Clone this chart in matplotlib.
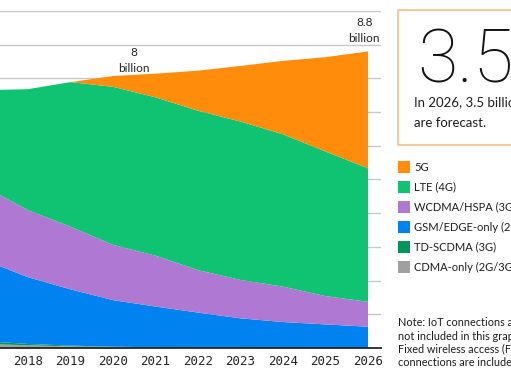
import matplotlib.pyplot as plt
from matplotlib.patches import Rectangle

# Mobile subscriptions by technology (billions)
years = [2017, 2018, 2019, 2020, 2021, 2022, 2023, 2024, 2025, 2026]
cdma = [0.12, 0.08, 0.05, 0.03, 0.02, 0.01, 0.01, 0.0, 0.0, 0.0]
td_scdma = [0.08, 0.04, 0.02, 0.01, 0.0, 0.0, 0.0, 0.0, 0.0, 0.0]
gsm = [2.40, 1.98, 1.67, 1.38, 1.21, 1.04, 0.87, 0.77, 0.70, 0.63]
wcdma = [2.17, 1.99, 1.86, 1.64, 1.51, 1.26, 1.14, 1.05, 0.84, 0.74]
lte = [2.88, 3.59, 4.29, 4.69, 4.70, 4.73, 4.70, 4.52, 4.29, 3.96]
fiveg = [0.0, 0.0, 0.0, 0.32, 0.70, 1.19, 1.65, 2.18, 2.80, 3.47]

labels = ["5G", "LTE (4G)", "WCDMA/HSPA (3G)", "GSM/EDGE-only (2G)",
          "TD-SCDMA (3G)", "CDMA-only (2G/3G)"]
colors = ["#FF8C0A", "#0FC373", "#AF78D2", "#0082F0", "#00965A", "#A0A0A0"]
tick_years = [2018, 2019, 2020, 2021, 2022, 2023, 2024, 2025, 2026]

side_font = "Lato"
dark = "#1e1e1e"

fig = plt.figure(figsize=(5.11, 3.78), dpi=100)
ax = fig.add_axes([0.0, 0.0794, 0.7456, 0.8915])

# stack bottom to top
ax.stackplot(years, cdma, td_scdma, gsm, wcdma, lte, fiveg,
             colors=colors[::-1], linewidth=0)

ax.set_xlim(2017.343, 2026.305)
ax.set_ylim(0, 10)
ax.set_yticks(range(1, 11))
ax.yaxis.grid(True, color="#C8C8C8", linewidth=1)
ax.set_axisbelow(True)
ax.tick_params(axis='y', left=False, labelleft=False)
ax.set_xticks(tick_years)
ax.set_xticklabels([str(y) for y in tick_years], family="DejaVu Sans Mono",
                   fontsize=9, color="#242424")
ax.tick_params(axis='x', length=0, pad=5)
for s in ["top", "right", "left"]:
    ax.spines[s].set_visible(False)
ax.spines["bottom"].set_color("#242424")
ax.spines["bottom"].set_linewidth(1.3)

# total annotations
ax.text(2020.5, 8.53, "8\nbillion", ha="center", va="center", fontsize=8.5,
        family=side_font, linespacing=1.6, color="#242424")
ax.text(2025.91, 9.43, "8.8\nbillion", ha="center", va="center", fontsize=8.5,
        family=side_font, linespacing=1.6, color="#242424")

# highlight box on the right
fig.patches.append(Rectangle((398 / 511, 1 - 145 / 378), 0.4, 135 / 378,
                             transform=fig.transFigure, fill=False,
                             edgecolor="#F5C08A", linewidth=1.2))
fig.text(417 / 511, 1 - 62 / 378, "3.5", fontsize=53, family="Roboto",
         fontweight="light", va="center", ha="left", color="#111111")
fig.text(414 / 511, 1 - 103 / 378, "In 2026, 3.5 billion 5G subscriptions",
         fontsize=9.5, family=side_font, va="center", color=dark)
fig.text(414 / 511, 1 - 123 / 378, "are forecast.",
         fontsize=9.5, family=side_font, va="center", color=dark)

# legend
for i, (lab, col) in enumerate(zip(labels, colors)):
    yc = 167 + i * 20
    fig.patches.append(Rectangle((398 / 511, 1 - (yc + 6) / 378), 12 / 511, 12 / 378,
                                 transform=fig.transFigure, facecolor=col,
                                 edgecolor="none"))
    fig.text(414 / 511, 1 - yc / 378, lab, fontsize=8, family=side_font,
             va="center", color=dark)

note = ["Note: IoT connections are", "not included in this graph.",
        "Fixed wireless access (FWA)", "connections are included."]
for i, line in enumerate(note):
    fig.text(398 / 511, 1 - (323 + i * 13) / 378, line, fontsize=7.8,
             family=side_font, va="center", color=dark)

fig.savefig("out.png", dpi=100)
